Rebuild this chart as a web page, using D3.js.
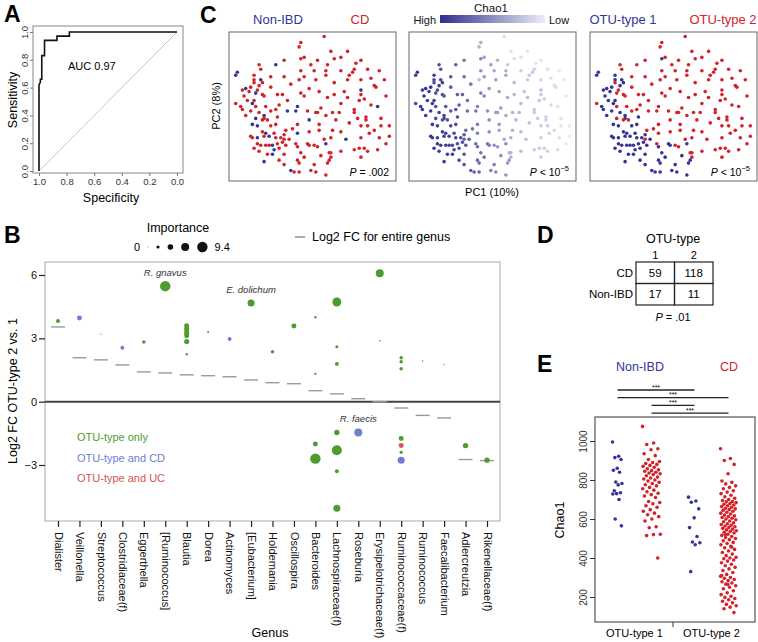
<!DOCTYPE html>
<html>
<head>
<meta charset="utf-8">
<script src="https://cdn.jsdelivr.net/npm/d3@7"></script>
<style>
  body { margin: 0; background: #fff; }
  svg { font-family: "Liberation Sans", Arial, sans-serif; }
</style>
</head>
<body>
<svg id="fig" width="758" height="642"></svg>
<script>
// ---------- data ----------
// A : ROC curve
const rocSpecificity = [1.00, 1.00, 0.99, 0.99, 0.98, 0.98, 0.96, 0.96, 0.87, 0.87, 0.78, 0.78, 0.00];
const rocSensitivity = [0.00, 0.62, 0.64, 0.66, 0.66, 0.83, 0.83, 0.94, 0.94, 0.97, 0.97, 1.00, 1.00];
const rocTicks = [1.0, 0.8, 0.6, 0.4, 0.2, 0.0];
const aucLabel = 'AUC 0.97';

// C : PCoA samples  [PC1, PC2, diagnosis (N = non-IBD, C = CD), OTU-type, Chao1]
const pcoa = [
  [0.07,0.47,'C',2,250],[-0.07,0.43,'C',2,450],[-0.08,0.40,'C',2,420],[0.21,0.37,'C',2,220],[-0.07,0.32,'C',1,600],
  [-0.05,0.33,'C',2,480],[-0.17,0.31,'C',2,650],[0.03,0.31,'C',2,420],[0.13,0.32,'C',2,250],[0.17,0.33,'C',2,230],
  [-0.32,0.28,'C',2,820],[-0.01,0.28,'C',2,500],[0.26,0.29,'C',2,220],[-0.22,0.28,'N',2,760],[-0.31,0.25,'C',2,800],
  [0.25,0.25,'C',2,300],[0.08,0.24,'C',2,420],[-0.07,0.24,'C',2,560],[0.24,0.23,'C',2,330],[-0.45,0.23,'N',1,900],
  [-0.46,0.21,'N',1,880],[-0.25,0.20,'C',2,780],[0.22,0.21,'C',2,330],[0.08,0.21,'C',2,450],[-0.17,0.20,'C',2,700],
  [-0.35,0.21,'C',1,870],[0.35,0.19,'C',2,230],[0.43,0.18,'C',2,200],[0.02,0.18,'C',2,500],[-0.08,0.18,'C',2,380],
  [-0.35,0.18,'C',1,860],[0.21,0.18,'C',2,320],[-0.31,0.18,'N',1,850],[-0.35,0.16,'C',2,820],[-0.30,0.16,'C',1,880],
  [0.37,0.14,'C',2,250],[0.38,0.13,'C',2,240],[-0.25,0.13,'C',2,780],[-0.37,0.13,'C',1,900],[-0.40,0.12,'N',1,920],
  [-0.42,0.11,'C',1,900],[0.29,0.11,'N',2,350],[-0.07,0.09,'C',2,620],[0.04,0.10,'C',2,480],[-0.33,0.11,'C',2,840],
  [-0.38,0.10,'C',1,880],[-0.34,0.09,'N',2,820],[-0.21,0.08,'C',2,760],[-0.18,0.08,'C',2,740],[-0.05,0.07,'C',2,600],
  [0.13,0.08,'C',2,400],[0.29,0.08,'C',2,320],[0.21,0.06,'C',2,380],[-0.30,0.08,'C',2,800],[-0.41,0.07,'C',1,920],
  [-0.29,0.07,'C',2,800],[0.31,0.05,'C',2,300],[0.28,0.04,'C',2,340],[-0.46,0.02,'C',2,850],[-0.36,0.02,'N',1,900],
  [-0.35,0.04,'C',1,880],[-0.34,0.00,'C',2,820],[-0.28,0.00,'C',2,800],[0.39,0.00,'N',2,230],[-0.09,0.00,'N',2,620],
  [0.05,-0.01,'C',2,520],[-0.43,0.00,'C',1,920],[-0.42,-0.02,'C',1,900],[-0.25,-0.03,'C',2,780],[-0.22,-0.02,'C',2,780],
  [-0.15,-0.03,'N',2,700],[-0.10,-0.03,'N',2,660],[-0.03,-0.03,'C',2,560],[0.02,-0.04,'C',2,520],[0.03,-0.04,'C',2,500],
  [0.12,-0.04,'C',2,420],[0.25,-0.02,'C',2,330],[0.25,-0.04,'C',2,320],[-0.37,-0.03,'C',1,900],[-0.32,-0.04,'C',1,880],
  [-0.29,-0.06,'N',1,860],[-0.29,-0.08,'C',1,860],[-0.34,-0.08,'N',2,820],[-0.21,-0.07,'C',1,800],[0.08,-0.06,'C',2,450],
  [0.16,-0.04,'C',2,400],[0.32,-0.07,'C',2,300],[0.32,-0.09,'C',2,290],[-0.36,-0.12,'N',1,900],[-0.33,-0.13,'N',1,880],
  [-0.30,-0.09,'C',2,800],[-0.27,-0.09,'C',2,800],[-0.09,-0.12,'C',2,620],[0.04,-0.12,'C',2,500],[0.22,-0.11,'C',2,350],
  [0.29,-0.13,'C',2,320],[0.33,-0.13,'C',2,300],[0.37,-0.16,'C',2,260],[-0.30,-0.17,'C',1,880],[-0.28,-0.18,'N',1,860],
  [-0.23,-0.18,'C',1,840],[-0.16,-0.16,'C',2,720],[0.04,-0.16,'C',2,480],[0.12,-0.16,'C',2,420],[0.17,-0.17,'C',2,380],
  [0.46,-0.13,'C',2,200],[0.46,-0.20,'C',2,190],[-0.37,-0.20,'C',1,920],[-0.36,-0.21,'C',1,900],[-0.33,-0.21,'N',1,890],
  [-0.29,-0.20,'C',1,880],[-0.26,-0.20,'N',1,860],[-0.22,-0.21,'C',1,850],[-0.19,-0.21,'C',1,820],[-0.17,-0.19,'C',1,800],
  [-0.09,-0.18,'N',2,620],[-0.17,-0.22,'C',2,720],[0.11,-0.21,'C',2,430],[0.29,-0.21,'C',2,300],[0.34,-0.18,'C',2,280],
  [0.40,-0.21,'C',2,240],[-0.31,-0.26,'C',1,900],[-0.28,-0.26,'C',1,880],[-0.26,-0.26,'C',1,870],[-0.24,-0.26,'N',1,860],
  [-0.21,-0.25,'C',1,840],[-0.18,-0.24,'C',1,820],[-0.16,-0.26,'C',1,800],[-0.03,-0.25,'C',1,650],[-0.02,-0.26,'C',1,640],
  [0.03,-0.27,'C',2,520],[0.01,-0.26,'C',2,540],[0.08,-0.25,'N',1,560],[-0.35,-0.28,'C',1,900],[-0.32,-0.30,'C',1,900],
  [-0.23,-0.29,'N',1,860],[-0.20,-0.28,'C',1,840],[-0.09,-0.27,'C',1,700],[-0.07,-0.31,'C',1,680],[0.10,-0.31,'C',2,420],
  [0.11,-0.31,'C',2,410],[0.11,-0.34,'C',2,400],[0.25,-0.29,'C',2,330],[0.28,-0.28,'C',2,310],[0.31,-0.28,'C',2,300],
  [0.33,-0.30,'C',2,290],[0.39,-0.29,'C',2,250],[-0.27,-0.32,'C',1,890],[-0.24,-0.32,'N',1,870],[-0.17,-0.32,'C',1,800],
  [0.05,-0.33,'C',1,560],[0.10,-0.36,'C',1,520],[-0.09,-0.36,'C',1,700],[-0.29,-0.37,'N',1,880],[-0.08,-0.38,'C',1,700],
  [-0.20,-0.36,'C',1,820],[0.09,-0.38,'C',1,520],[-0.13,-0.43,'N',1,760],[-0.11,-0.44,'C',1,740],[-0.08,-0.44,'C',1,720],
  [-0.01,-0.43,'C',1,640],[0.02,-0.44,'C',1,600],[0.08,-0.46,'C',1,540],[-0.32,0.14,'C',1,870],[-0.39,0.04,'C',1,900],
  [-0.40,-0.06,'C',1,900],[-0.25,-0.13,'C',1,840],[-0.22,-0.12,'C',1,820],[-0.14,-0.22,'C',1,760],[-0.05,-0.34,'C',1,660],
  [0.01,-0.39,'C',1,620],[-0.17,-0.39,'C',1,790],[-0.33,-0.25,'C',1,900],[0.11,0.37,'C',2,230],[0.29,0.31,'C',2,210],
  [0.40,0.24,'C',2,200],[0.17,0.24,'C',2,300],[0.01,0.24,'C',2,450],[-0.13,0.15,'C',2,650],[0.13,0.16,'C',2,380],
  [0.09,0.06,'C',2,450],[-0.02,0.12,'C',2,520],[-0.15,0.04,'C',2,700],[0.17,0.02,'C',2,380],[0.35,0.01,'C',2,260],
  [0.44,0.07,'C',2,210],[-0.02,-0.09,'N',2,560],[0.14,-0.09,'C',2,400],[0.27,-0.08,'C',2,320],[0.41,-0.08,'C',2,230],
  [-0.12,-0.15,'C',2,680],[-0.02,-0.17,'C',2,560],[0.20,-0.22,'N',2,360],[0.44,-0.25,'C',2,200],[0.17,-0.30,'C',2,380],
  [0.29,-0.34,'C',2,300],[0.07,-0.22,'C',2,460],[-0.10,-0.25,'C',2,700],[-0.20,0.01,'C',2,760],[-0.05,0.20,'C',2,520],
  [0.29,0.18,'C',2,280],[0.33,0.25,'C',2,240],[0.09,0.28,'C',2,330],[0.41,-0.13,'C',2,220],[0.19,0.10,'C',2,360]
];
const pcoaPValues = ['.002', '10', '10'];

// B : genus log2 fold changes and OTU points
const genera = ['Dialister', 'Veillonella', 'Streptococcus', 'Clostridiaceae(f)', 'Eggerthella', '[Ruminococcus]',
  'Blautia', 'Dorea', 'Actinomyces', '[Eubacterium]', 'Holdemania', 'Oscillospira', 'Bacteroides',
  'Lachnospiraceae(f)', 'Roseburia', 'Erysipelotrichaceae(f)', 'Ruminococcaceae(f)', 'Ruminococcus',
  'Faecalibacterium', 'Adlercreutzia', 'Rikenellaceae(f)'];
const genusFC = [3.54, 2.08, 1.98, 1.74, 1.41, 1.36, 1.27, 1.23, 1.18, 1.03, 0.90, 0.85, 0.52,
  0.37, 0.14, 0.00, -0.30, -0.65, -0.77, -2.74, -2.79];
// [genus, log2 FC, importance, association]
const otuPoints = [
  ['Dialister', 3.82, 3.1, 'only'], ['Veillonella', 3.96, 4.1, 'CD'], ['Streptococcus', 3.20, 0.6, 'CD'],
  ['Clostridiaceae(f)', 2.55, 3.1, 'CD'], ['Eggerthella', 2.83, 2.7, 'only'], ['[Ruminococcus]', 5.47, 9.4, 'only'],
  ['Blautia', 3.60, 4.1, 'only'], ['Blautia', 3.48, 4.1, 'only'], ['Blautia', 3.36, 4.1, 'only'],
  ['Blautia', 3.24, 4.1, 'only'], ['Blautia', 3.12, 4.1, 'only'], ['Blautia', 2.85, 4.3, 'only'], ['Blautia', 2.25, 1.6, 'only'],
  ['Dorea', 3.30, 1.2, 'only'], ['Actinomyces', 2.97, 3.1, 'CD'], ['[Eubacterium]', 4.67, 6.1, 'only'],
  ['Holdemania', 2.36, 2.7, 'only'], ['Oscillospira', 3.58, 4.1, 'only'],
  ['Bacteroides', 4.00, 1.5, 'only'], ['Bacteroides', 1.32, 1.5, 'only'], ['Bacteroides', -2.00, 4.1, 'only'], ['Bacteroides', -2.70, 9.4, 'only'],
  ['Lachnospiraceae(f)', 4.72, 8.0, 'only'], ['Lachnospiraceae(f)', 2.60, 2.2, 'only'], ['Lachnospiraceae(f)', 1.79, 3.1, 'only'],
  ['Lachnospiraceae(f)', -1.46, 4.5, 'only'], ['Lachnospiraceae(f)', -2.30, 9.0, 'only'], ['Lachnospiraceae(f)', -3.30, 3.1, 'only'],
  ['Lachnospiraceae(f)', -5.05, 6.1, 'only'],
  ['Roseburia', -1.46, 7.0, 'CD'],
  ['Erysipelotrichaceae(f)', 6.08, 7.0, 'only'], ['Erysipelotrichaceae(f)', 2.88, 0.8, 'only'],
  ['Ruminococcaceae(f)', 2.08, 2.7, 'only'], ['Ruminococcaceae(f)', 1.89, 2.7, 'only'], ['Ruminococcaceae(f)', 1.56, 2.7, 'only'],
  ['Ruminococcaceae(f)', -1.75, 4.1, 'only'], ['Ruminococcaceae(f)', -2.08, 4.1, 'UC'], ['Ruminococcaceae(f)', -2.40, 2.5, 'only'],
  ['Ruminococcaceae(f)', -2.77, 6.1, 'CD'],
  ['Ruminococcus', 1.93, 0.6, 'only'], ['Faecalibacterium', 1.75, 0.4, 'only'],
  ['Adlercreutzia', -2.08, 4.5, 'only'], ['Rikenellaceae(f)', -2.77, 4.5, 'only']
];
const otuLabels = [['[Ruminococcus]', 5.47, 'R. gnavus'], ['[Eubacterium]', 4.67, 'E. dolichum'], ['Roseburia', -1.46, 'R. faecis']];
const importanceLegend = [0, 2.35, 4.7, 7.05, 9.4];
const fcTicks = [-3, 0, 3, 6];
const assocNames = { only: 'OTU-type only', CD: 'OTU-type and CD', UC: 'OTU-type and UC' };

// D : contingency table
const tableRows = ['CD', 'Non-IBD'];
const tableCols = ['1', '2'];
const tableCounts = [[59, 118], [17, 11]];
const tablePValue = '.01';

// E : Chao1 by OTU-type and diagnosis
const chaoNonIBD1 = [995, 922, 915, 905, 860, 850, 840, 790, 782, 775, 745, 735, 730, 728, 700, 600, 565];
const chaoCD1 = [1075, 990, 982, 960, 955, 935, 925, 905, 895, 890, 885, 880, 875, 870, 865, 858, 852, 848, 845, 840,
  836, 832, 828, 822, 815, 810, 805, 800, 795, 788, 782, 776, 770, 762, 755, 748, 740, 732, 725, 718,
  710, 690, 685, 678, 668, 660, 648, 640, 630, 622, 612, 600, 590, 560, 555, 522, 520, 515, 400];
const chaoNonIBD2 = [712, 692, 686, 652, 606, 556, 510, 482, 478, 468, 330];
const chaoCD2 = [960, 910, 900, 880, 832, 795, 788, 780, 770, 762, 755, 745, 738, 730, 722, 714, 706, 700, 695, 690,
  688, 684, 680, 676, 672, 668, 664, 660, 655, 652, 648, 644, 640, 635, 630, 626, 620, 616, 612, 608,
  604, 600, 596, 590, 586, 580, 576, 572, 568, 564, 560, 556, 552, 548, 544, 540, 536, 532, 528, 522,
  516, 510, 505, 500, 494, 488, 480, 474, 468, 460, 452, 444, 436, 428, 420, 412, 404, 400, 396, 390,
  384, 376, 368, 360, 352, 344, 336, 326, 316, 306, 300, 296, 290, 284, 278, 272, 266, 258, 250, 242,
  232, 222, 212, 204, 198, 192, 186, 178, 170, 162, 155, 148, 140, 120, 265, 310, 455, 520];
const chaoTicks = [200, 400, 600, 800, 1000];
const otuTypes = ['OTU-type 1', 'OTU-type 2'];
const sigPairs = [['N1', 'N2'], ['N1', 'C2'], ['C1', 'N2'], ['C1', 'C2']];

// ---------- styles ----------
const blue = '#34349a', red = '#d1232a';
const catColor = { only: '#4f9c2e', CD: '#6e80d2', UC: '#d7544f' };
const svg = d3.select('#fig');

// panel letters
[['A', 4, 22], ['C', 200, 23], ['B', 4, 243], ['D', 537, 243], ['E', 537, 372]].forEach(([t, x, y]) => {
  svg.append('text').attr('x', x).attr('y', y).attr('font-size', 23).attr('font-weight', 'bold').text(t);
});

// ================= A =================
const ax = d3.scaleLinear().domain([1.0435, -0.0435]).range([33, 183]);
const ay = d3.scaleLinear().domain([-0.014, 1.043]).range([173, 26]);
const gA = svg.append('g');
gA.append('line').attr('x1', ax(1)).attr('y1', ay(0)).attr('x2', ax(0)).attr('y2', ay(1))
  .attr('stroke', '#b5b5b5').attr('stroke-width', 0.8);
gA.append('path')
  .datum(rocSpecificity.map((s, i) => [s, rocSensitivity[i]]))
  .attr('d', d3.line().x(d => ax(d[0])).y(d => ay(d[1])))
  .attr('fill', 'none').attr('stroke', '#111').attr('stroke-width', 1.6);
gA.append('rect').attr('x', 33).attr('y', 26).attr('width', 150).attr('height', 147)
  .attr('fill', 'none').attr('stroke', '#888').attr('stroke-width', 1);
const axA = gA.append('g').attr('transform', 'translate(0,173)')
  .call(d3.axisBottom(ax).tickValues(rocTicks).tickFormat(d3.format('.1f')).tickSize(3).tickPadding(2));
const ayA = gA.append('g').attr('transform', 'translate(33,0)')
  .call(d3.axisLeft(ay).tickValues(rocTicks).tickFormat(d3.format('.1f')).tickSize(3));
[axA, ayA].forEach(g => {
  g.select('.domain').remove();
  g.selectAll('line').attr('stroke', '#777');
  g.selectAll('text').attr('font-size', 9.5).attr('fill', '#333').attr('font-family', null);
});
ayA.selectAll('text').attr('transform', 'rotate(-90)').attr('x', 0).attr('y', -5).attr('dy', 0)
  .attr('text-anchor', 'middle');
gA.append('text').attr('x', 68).attr('y', 70).attr('font-size', 11).text(aucLabel);
gA.append('text').attr('transform', 'translate(17,100) rotate(-90)').attr('text-anchor', 'middle')
  .attr('font-size', 12.5).text('Sensitivity');
gA.append('text').attr('x', 111).attr('y', 202).attr('text-anchor', 'middle')
  .attr('font-size', 12.5).text('Specificity');

// ================= C =================
const cx = d3.scaleLinear().domain([-0.5, 0.5]).range([0, 167]);
const cy = d3.scaleLinear().domain([-0.5, 0.5]).range([181, 32]);
const chaoColor = d3.scaleLinear().domain([180, 950]).range(['#ececf7', '#2e2e8e']).clamp(true);
const pcoaLefts = [229, 409, 590];
const pcoaFill = [
  d => d[2] === 'N' ? blue : red,
  d => chaoColor(d[4]),
  d => d[3] === 1 ? blue : red
];
pcoaLefts.forEach((left, k) => {
  const g = svg.append('g').attr('transform', `translate(${left},0)`);
  g.append('rect').attr('x', 0).attr('y', 32).attr('width', 167).attr('height', 149)
    .attr('fill', 'none').attr('stroke', '#666').attr('stroke-width', 1);
  g.selectAll('circle').data(pcoa).join('circle')
    .attr('cx', d => cx(d[0])).attr('cy', d => cy(d[1])).attr('r', 1.8)
    .attr('fill', pcoaFill[k]);
  const pt = g.append('text').attr('x', 160).attr('y', 176).attr('text-anchor', 'end').attr('font-size', 10.5);
  pt.append('tspan').attr('font-style', 'italic').text('P');
  if (k === 0) {
    pt.append('tspan').text(' = ' + pcoaPValues[k]);
  } else {
    pt.append('tspan').text(' < ' + pcoaPValues[k]);
    pt.append('tspan').attr('dy', -5).attr('font-size', 7.5).text('−5');
  }
});
// headers
const hdr = (x, y, t, c, anchor = 'middle', size = 13) =>
  svg.append('text').attr('x', x).attr('y', y).attr('text-anchor', anchor).attr('font-size', size).attr('fill', c).text(t);
hdr(278, 24, 'Non-IBD', blue);
hdr(360, 24, 'CD', red);
hdr(623, 24, 'OTU-type 1', blue);
hdr(723, 24, 'OTU-type 2', red);
hdr(491, 12, 'Chao1', '#111', 'middle', 11.5);
hdr(436, 24, 'High', '#111', 'end', 11);
hdr(549, 24, 'Low', '#111', 'start', 11);
const grad = svg.append('defs').append('linearGradient').attr('id', 'chaoGrad');
grad.append('stop').attr('offset', '0%').attr('stop-color', chaoColor(950));
grad.append('stop').attr('offset', '100%').attr('stop-color', chaoColor(180));
svg.append('rect').attr('x', 440).attr('y', 15).attr('width', 105).attr('height', 8).attr('fill', 'url(#chaoGrad)');
svg.append('text').attr('x', 492).attr('y', 196).attr('text-anchor', 'middle').attr('font-size', 11).text('PC1 (10%)');
svg.append('text').attr('transform', 'translate(220,106) rotate(-90)').attr('text-anchor', 'middle')
  .attr('font-size', 11).text('PC2 (8%)');

// ================= B =================
const bx = d3.scalePoint().domain(genera).range([58, 487]);
const by = d3.scaleLinear().domain([-3, 6]).range([465, 275]);
const bSize = d3.scaleLinear().domain([0, 9.4]).range([0.4, 5.2]);
const gB = svg.append('g');
gB.append('rect').attr('x', 45).attr('y', 262).attr('width', 455).attr('height', 259)
  .attr('fill', 'none').attr('stroke', '#aaa').attr('stroke-width', 1);
gB.append('line').attr('x1', 45).attr('x2', 500).attr('y1', by(0)).attr('y2', by(0))
  .attr('stroke', '#444').attr('stroke-width', 2);
gB.selectAll('.gfc').data(genera).join('line').attr('class', 'gfc')
  .attr('x1', d => bx(d) - 7).attr('x2', d => bx(d) + 7)
  .attr('y1', (d, i) => by(genusFC[i])).attr('y2', (d, i) => by(genusFC[i]))
  .attr('stroke', '#9a9a9a').attr('stroke-width', 1.4);
gB.selectAll('.otu').data(otuPoints).join('circle').attr('class', 'otu')
  .attr('cx', d => bx(d[0])).attr('cy', d => by(d[1])).attr('r', d => bSize(d[2]))
  .attr('fill', d => catColor[d[3]]);
gB.selectAll('.olab').data(otuLabels).join('text').attr('class', 'olab')
  .attr('x', d => bx(d[0])).attr('y', d => by(d[1]) - 10).attr('text-anchor', 'middle')
  .attr('font-size', 9.5).attr('font-style', 'italic').attr('fill', '#333').text(d => d[2]);
const byAxis = gB.append('g').attr('transform', 'translate(45,0)')
  .call(d3.axisLeft(by).tickValues(fcTicks).tickSize(6).tickPadding(2));
const bxAxis = gB.append('g').attr('transform', 'translate(0,521)')
  .call(d3.axisBottom(bx).tickSize(6));
[byAxis, bxAxis].forEach(g => {
  g.select('.domain').remove();
  g.selectAll('line').attr('stroke', '#222').attr('stroke-width', 1.2);
  g.selectAll('text').attr('font-size', 11).attr('fill', '#111').attr('font-family', null);
});
bxAxis.selectAll('text').attr('transform', 'rotate(90)').attr('x', 11).attr('y', 0).attr('dy', '0.35em')
  .attr('text-anchor', 'start');
gB.append('text').attr('x', 270).attr('y', 637).attr('text-anchor', 'middle').attr('font-size', 12.5).text('Genus');
gB.append('text').attr('transform', 'translate(17,391) rotate(-90)').attr('text-anchor', 'middle')
  .attr('font-size', 12.5).text('Log2 FC OTU-type 2 vs. 1');
Object.keys(assocNames).forEach((k, i) => {
  gB.append('text').attr('x', 77).attr('y', 441 + i * 20.5).attr('font-size', 11)
    .attr('fill', catColor[k]).text(assocNames[k]);
});
// importance legend
gB.append('text').attr('x', 178).attr('y', 232).attr('text-anchor', 'middle').attr('font-size', 12.5).text('Importance');
gB.append('text').attr('x', 140).attr('y', 251).attr('text-anchor', 'end').attr('font-size', 11).text('0');
let lx = 148;
importanceLegend.forEach((v, i) => {
  if (i > 0) lx += bSize(importanceLegend[i - 1]) + bSize(v) + 8;
  gB.append('circle').attr('cx', lx).attr('cy', 247).attr('r', bSize(v)).attr('fill', '#111');
});
gB.append('text').attr('x', lx + bSize(9.4) + 7).attr('y', 251).attr('font-size', 11).text('9.4');
gB.append('line').attr('x1', 295).attr('x2', 305).attr('y1', 237).attr('y2', 237).attr('stroke', '#777').attr('stroke-width', 1.2);
gB.append('text').attr('x', 312).attr('y', 241).attr('font-size', 12.5).text('Log2 FC for entire genus');

// ================= D =================
const dx = d3.scaleBand().domain(tableCols).range([636, 713]);
const dy = d3.scaleBand().domain(tableRows).range([262, 305]);
const gD = svg.append('g');
gD.append('text').attr('x', 673).attr('y', 243).attr('text-anchor', 'middle').attr('font-size', 12.5).text('OTU-type');
tableCols.forEach(c => gD.append('text').attr('x', dx(c) + dx.bandwidth() / 2).attr('y', 259)
  .attr('text-anchor', 'middle').attr('font-size', 11).text(c));
tableRows.forEach((r, i) => {
  gD.append('text').attr('x', 633).attr('y', dy(r) + dy.bandwidth() / 2 + 4).attr('text-anchor', 'end')
    .attr('font-size', 11.5).text(r);
  tableCols.forEach((c, j) => {
    gD.append('rect').attr('x', dx(c)).attr('y', dy(r)).attr('width', dx.bandwidth()).attr('height', dy.bandwidth())
      .attr('fill', 'none').attr('stroke', '#222').attr('stroke-width', 1.2);
    gD.append('text').attr('x', dx(c) + dx.bandwidth() / 2).attr('y', dy(r) + dy.bandwidth() / 2 + 4)
      .attr('text-anchor', 'middle').attr('font-size', 11.5).text(tableCounts[i][j]);
  });
});
const dp = gD.append('text').attr('x', 673).attr('y', 321).attr('text-anchor', 'middle').attr('font-size', 11);
dp.append('tspan').attr('font-style', 'italic').text('P');
dp.append('tspan').text(' = ' + tablePValue);

// ================= E =================
const ex = d3.scalePoint().domain(otuTypes).range([596, 750]).padding(0.5);
const ey = d3.scaleLinear().domain([200, 1000]).range([597, 441]);
const groups = [
  { key: 'N1', type: otuTypes[0], off: -17, vals: chaoNonIBD1, col: blue, spread: 5 },
  { key: 'C1', type: otuTypes[0], off: 17, vals: chaoCD1, col: red, spread: 9 },
  { key: 'N2', type: otuTypes[1], off: -17, vals: chaoNonIBD2, col: blue, spread: 6 },
  { key: 'C2', type: otuTypes[1], off: 17, vals: chaoCD2, col: red, spread: 8 }
];
const gx = k => { const g = groups.find(d => d.key === k); return ex(g.type) + g.off; };
const gE = svg.append('g');
gE.append('rect').attr('x', 595).attr('y', 417).attr('width', 160).attr('height', 205)
  .attr('fill', 'none').attr('stroke', '#555').attr('stroke-width', 1.2);
groups.forEach(g => {
  gE.append('g').selectAll('circle').data(g.vals).join('circle')
    .attr('cx', (v, i) => gx(g.key) + (((i * 0.618034) % 1) * 2 - 1) * g.spread)
    .attr('cy', v => ey(v)).attr('r', 1.8).attr('fill', g.col);
});
const eyAxis = gE.append('g').attr('transform', 'translate(595,0)')
  .call(d3.axisLeft(ey).tickValues(chaoTicks).tickFormat(d3.format('d')).tickSize(5));
eyAxis.select('.domain').remove();
eyAxis.selectAll('line').attr('stroke', '#333');
eyAxis.selectAll('text').attr('font-size', 10).attr('fill', '#333').attr('font-family', null)
  .attr('transform', 'rotate(-90)').attr('x', 0).attr('y', -8).attr('dy', 0).attr('text-anchor', 'middle');
gE.append('line').attr('x1', (ex(otuTypes[0]) + ex(otuTypes[1])) / 2).attr('x2', (ex(otuTypes[0]) + ex(otuTypes[1])) / 2)
  .attr('y1', 622).attr('y2', 627).attr('stroke', '#333');
otuTypes.forEach(t => gE.append('text').attr('x', ex(t)).attr('y', 637).attr('text-anchor', 'middle')
  .attr('font-size', 11).text(t));
gE.append('text').attr('transform', 'translate(564,520) rotate(-90)').attr('text-anchor', 'middle')
  .attr('font-size', 12.5).text('Chao1');
hdr(640, 371, 'Non-IBD', blue, 'middle', 12.5);
hdr(729, 371, 'CD', red, 'middle', 12.5);
sigPairs.forEach((p, i) => {
  const y = 390 + i * 7.7;
  gE.append('line').attr('x1', gx(p[0])).attr('x2', gx(p[1])).attr('y1', y).attr('y2', y)
    .attr('stroke', '#222').attr('stroke-width', 1.3);
  gE.append('text').attr('x', (gx(p[0]) + gx(p[1])) / 2).attr('y', y - 0.5).attr('text-anchor', 'middle')
    .attr('font-size', 7).text('***');
});
</script>
</body>
</html>
